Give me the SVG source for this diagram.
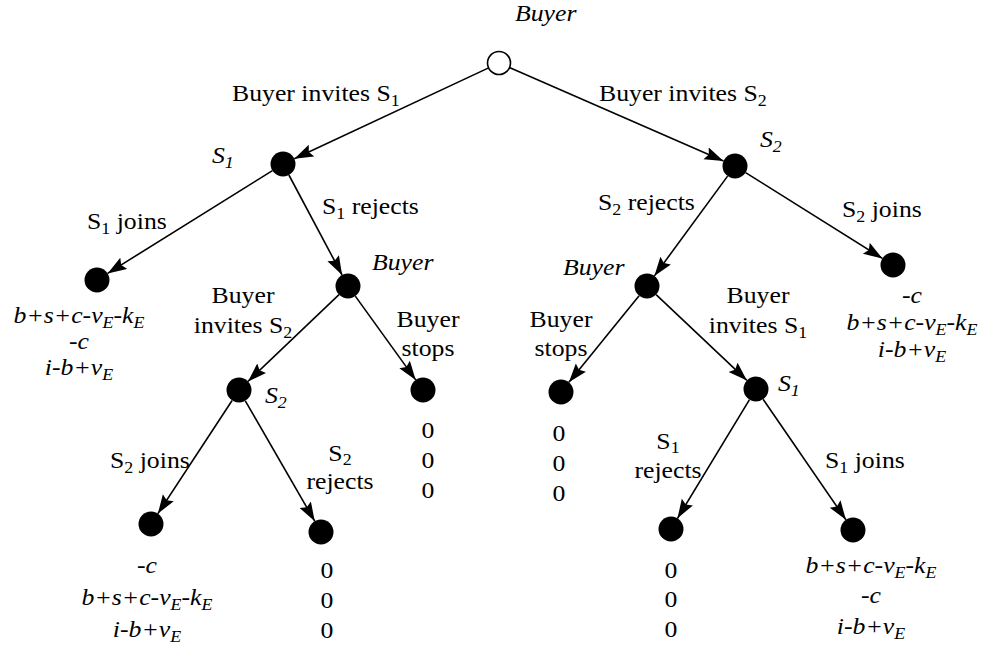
<svg xmlns="http://www.w3.org/2000/svg" width="983" height="645" viewBox="0 0 983 645" font-family="'Liberation Serif', 'Times New Roman', serif">
<style>
.t{font-size:23px;fill:#000}
.i{font-style:italic}
.m{text-anchor:middle}
.sb{font-size:16px}
.e{stroke:#000;stroke-width:1.6;fill:none;marker-end:url(#ah)}
.n{fill:#000}
.o{fill:#fff;stroke:#000;stroke-width:1.6}
</style>
<defs>
<marker id="ah" markerUnits="userSpaceOnUse" markerWidth="20" markerHeight="14" refX="19" refY="6.5" orient="auto">
<path d="M0,0 L19,6.5 L0,13 L3,6.5 z" fill="#000"/>
</marker>
</defs>
<rect width="983" height="645" fill="#fff"/>
<g id="connectors">
<line class="e" x1="488.1" y1="68.1" x2="294.3" y2="158.7"/>
<line class="e" x1="510" y1="67.8" x2="723.5" y2="161"/>
<line class="e" x1="272.4" y1="170.6" x2="107.6" y2="273.4"/>
<line class="e" x1="288.9" y1="175" x2="342.1" y2="275"/>
<line class="e" x1="727.6" y1="176.1" x2="654.4" y2="275.9"/>
<line class="e" x1="745.6" y1="172.6" x2="882.4" y2="258.4"/>
<line class="e" x1="339" y1="294.6" x2="248" y2="381.4"/>
<line class="e" x1="355.3" y1="296.1" x2="415.7" y2="379.9"/>
<line class="e" x1="639.1" y1="295.7" x2="568.9" y2="382.3"/>
<line class="e" x1="656.1" y1="294.6" x2="746.9" y2="380.4"/>
<line class="e" x1="232.1" y1="400.5" x2="157.9" y2="513.6"/>
<line class="e" x1="245.3" y1="400.8" x2="314.75" y2="521.2"/>
<line class="e" x1="749.5" y1="399.7" x2="677.5" y2="518.3"/>
<line class="e" x1="763.1" y1="399.3" x2="845.9" y2="519.7"/>
<text class="t" transform="translate(232,101) scale(1.12,1)">Buyer invites S<tspan class="sb" dy="5">1</tspan></text>
<text class="t" transform="translate(599,101) scale(1.12,1)">Buyer invites S<tspan class="sb" dy="5">2</tspan></text>
<text class="t" transform="translate(87,229) scale(1.12,1)">S<tspan class="sb" dy="5">1</tspan><tspan dy="-5"> joins</tspan></text>
<text class="t" transform="translate(322,214) scale(1.12,1)">S<tspan class="sb" dy="5">1</tspan><tspan dy="-5"> rejects</tspan></text>
<text class="t m" transform="translate(243,303) scale(1.12,1)">Buyer</text>
<text class="t m" transform="translate(243,333) scale(1.12,1)">invites S<tspan class="sb" dy="5">2</tspan></text>
<text class="t m" transform="translate(428,327) scale(1.12,1)">Buyer</text>
<text class="t m" transform="translate(428,356) scale(1.12,1)">stops</text>
<text class="t" transform="translate(110,468) scale(1.12,1)">S<tspan class="sb" dy="5">2</tspan><tspan dy="-5"> joins</tspan></text>
<text class="t m" transform="translate(340,461) scale(1.12,1)">S<tspan class="sb" dy="4">2</tspan></text>
<text class="t m" transform="translate(340,489) scale(1.12,1)">rejects</text>
<text class="t" transform="translate(598,210) scale(1.12,1)">S<tspan class="sb" dy="5">2</tspan><tspan dy="-5"> rejects</tspan></text>
<text class="t" transform="translate(842,217) scale(1.12,1)">S<tspan class="sb" dy="5">2</tspan><tspan dy="-5"> joins</tspan></text>
<text class="t m" transform="translate(561,327) scale(1.12,1)">Buyer</text>
<text class="t m" transform="translate(561,356) scale(1.12,1)">stops</text>
<text class="t m" transform="translate(758,303) scale(1.12,1)">Buyer</text>
<text class="t m" transform="translate(758,333) scale(1.12,1)">invites S<tspan class="sb" dy="5">1</tspan></text>
<text class="t m" transform="translate(668,449) scale(1.12,1)">S<tspan class="sb" dy="4">1</tspan></text>
<text class="t m" transform="translate(668,478) scale(1.12,1)">rejects</text>
<text class="t" transform="translate(825,468) scale(1.12,1)">S<tspan class="sb" dy="5">1</tspan><tspan dy="-5"> joins</tspan></text>
</g>
<g id="root">
<circle class="o" cx="499" cy="63" r="11.5"/>
<text class="t i" transform="translate(515,21) scale(1.12,1)">Buyer</text>
</g>
<g id="s1">
<circle class="n" cx="283" cy="164" r="12.5"/>
<text class="t i" transform="translate(212,163) scale(1.12,1)">S<tspan class="sb" dy="5">1</tspan></text>
</g>
<g id="s2">
<circle class="n" cx="735" cy="166" r="12.5"/>
<text class="t i" transform="translate(760,147) scale(1.12,1)">S<tspan class="sb" dy="5">2</tspan></text>
</g>
<g id="leaf-s1-joins">
<circle class="n" cx="97" cy="280" r="12.5"/>
<text class="t i m" transform="translate(79,323) scale(1.12,1)">b+s+c-v<tspan class="sb" dy="5">E</tspan><tspan dy="-5">-k</tspan><tspan class="sb" dy="5">E</tspan></text>
<text class="t i m" transform="translate(79,349) scale(1.12,1)">-c</text>
<text class="t i m" transform="translate(79,375) scale(1.12,1)">i-b+v<tspan class="sb" dy="5">E</tspan></text>
</g>
<g id="buyer-left">
<circle class="n" cx="348" cy="286" r="12.5"/>
<text class="t i" transform="translate(372,270) scale(1.12,1)">Buyer</text>
</g>
<g id="leaf-s2-joins-top">
<circle class="n" cx="893" cy="265" r="12.5"/>
<text class="t i m" transform="translate(912,303) scale(1.12,1)">-c</text>
<text class="t i m" transform="translate(912,330) scale(1.12,1)">b+s+c-v<tspan class="sb" dy="5">E</tspan><tspan dy="-5">-k</tspan><tspan class="sb" dy="5">E</tspan></text>
<text class="t i m" transform="translate(912,357) scale(1.12,1)">i-b+v<tspan class="sb" dy="5">E</tspan></text>
</g>
<g id="buyer-right">
<circle class="n" cx="647" cy="286" r="12.5"/>
<text class="t i" transform="translate(563,275) scale(1.12,1)">Buyer</text>
</g>
<g id="s2-left">
<circle class="n" cx="239" cy="390" r="12.5"/>
<text class="t i" transform="translate(265,403) scale(1.12,1)">S<tspan class="sb" dy="5">2</tspan></text>
</g>
<g id="leaf-stop-left">
<circle class="n" cx="423" cy="390" r="12.5"/>
<text class="t m" transform="translate(428,438) scale(1.12,1)">0</text>
<text class="t m" transform="translate(428,468) scale(1.12,1)">0</text>
<text class="t m" transform="translate(428,498) scale(1.12,1)">0</text>
</g>
<g id="leaf-stop-right">
<circle class="n" cx="561" cy="392" r="12.5"/>
<text class="t m" transform="translate(559,441) scale(1.12,1)">0</text>
<text class="t m" transform="translate(559,471) scale(1.12,1)">0</text>
<text class="t m" transform="translate(559,501) scale(1.12,1)">0</text>
</g>
<g id="s1-right">
<circle class="n" cx="756" cy="389" r="12.5"/>
<text class="t i" transform="translate(778,391) scale(1.12,1)">S<tspan class="sb" dy="5">1</tspan></text>
</g>
<g id="leaf-s2-joins-left">
<circle class="n" cx="151" cy="524" r="12.5"/>
<text class="t i m" transform="translate(147,573) scale(1.12,1)">-c</text>
<text class="t i m" transform="translate(147,605) scale(1.12,1)">b+s+c-v<tspan class="sb" dy="5">E</tspan><tspan dy="-5">-k</tspan><tspan class="sb" dy="5">E</tspan></text>
<text class="t i m" transform="translate(147,637) scale(1.12,1)">i-b+v<tspan class="sb" dy="5">E</tspan></text>
</g>
<g id="leaf-s2-rejects-left">
<circle class="n" cx="321" cy="532" r="12.5"/>
<text class="t m" transform="translate(327,578) scale(1.12,1)">0</text>
<text class="t m" transform="translate(327,608) scale(1.12,1)">0</text>
<text class="t m" transform="translate(327,638) scale(1.12,1)">0</text>
</g>
<g id="leaf-s1-rejects-right">
<circle class="n" cx="671" cy="529" r="12.5"/>
<text class="t m" transform="translate(671,578) scale(1.12,1)">0</text>
<text class="t m" transform="translate(671,607) scale(1.12,1)">0</text>
<text class="t m" transform="translate(671,637) scale(1.12,1)">0</text>
</g>
<g id="leaf-s1-joins-right">
<circle class="n" cx="853" cy="530" r="12.5"/>
<text class="t i m" transform="translate(871,573) scale(1.12,1)">b+s+c-v<tspan class="sb" dy="5">E</tspan><tspan dy="-5">-k</tspan><tspan class="sb" dy="5">E</tspan></text>
<text class="t i m" transform="translate(871,603) scale(1.12,1)">-c</text>
<text class="t i m" transform="translate(871,634) scale(1.12,1)">i-b+v<tspan class="sb" dy="5">E</tspan></text>
</g>
</svg>
